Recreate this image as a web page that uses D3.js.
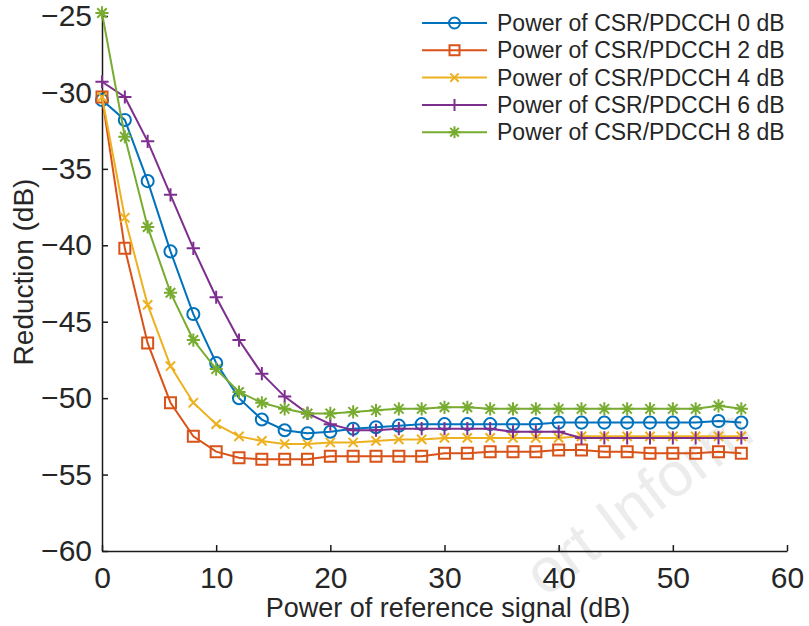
<!DOCTYPE html>
<html>
<head>
<meta charset="utf-8">
<script src="https://cdn.jsdelivr.net/npm/d3@7"></script>
<style>
  body { margin: 0; background: #fff; }
  text { font-family: "Liberation Sans", Arial, sans-serif; fill: #262626; }
  .tick text { font-family: "Liberation Sans Narrow", "Arial Narrow", sans-serif; }
</style>
</head>
<body>
<div id="chart"></div>
<script>
// x positions (power of reference signal, dB)
const refPower = [0, 2, 4, 6, 8, 10, 12, 14, 16, 18, 20, 22, 24, 26, 28, 30, 32, 34, 36, 38, 40, 42, 44, 46, 48, 50, 52, 54, 56];

// reduction values (dB) for each CSR/PDCCH power
const csr0 = [-30.5, -31.8, -35.8, -40.4, -44.5, -47.7, -50.0, -51.4, -52.1, -52.3, -52.2, -52.0, -51.9, -51.8, -51.7, -51.7, -51.7, -51.7, -51.7, -51.7, -51.6, -51.6, -51.6, -51.6, -51.6, -51.6, -51.6, -51.5, -51.6];
const csr2 = [-30.3, -40.2, -46.4, -50.3, -52.5, -53.5, -53.9, -54.0, -54.0, -54.0, -53.8, -53.8, -53.8, -53.8, -53.8, -53.6, -53.6, -53.5, -53.5, -53.5, -53.4, -53.4, -53.5, -53.5, -53.6, -53.6, -53.6, -53.5, -53.6];
const csr4 = [-30.3, -38.2, -43.9, -47.9, -50.3, -51.7, -52.5, -52.8, -53.0, -53.0, -52.9, -52.9, -52.8, -52.7, -52.7, -52.6, -52.6, -52.6, -52.6, -52.6, -52.6, -52.5, -52.5, -52.5, -52.5, -52.5, -52.5, -52.5, -52.5];
const csr6 = [-29.3, -30.3, -33.2, -36.7, -40.2, -43.4, -46.2, -48.4, -49.9, -51.0, -51.7, -52.1, -52.1, -52.0, -52.0, -52.0, -52.0, -52.0, -52.2, -52.2, -52.2, -52.6, -52.6, -52.6, -52.6, -52.6, -52.6, -52.6, -52.6];
const csr8 = [-24.8, -32.9, -38.8, -43.1, -46.2, -48.1, -49.6, -50.3, -50.7, -51.0, -51.0, -50.9, -50.8, -50.7, -50.7, -50.6, -50.6, -50.7, -50.7, -50.7, -50.7, -50.7, -50.7, -50.7, -50.7, -50.7, -50.7, -50.5, -50.7];

const seriesNames = ['Power of CSR/PDCCH 0 dB', 'Power of CSR/PDCCH 2 dB', 'Power of CSR/PDCCH 4 dB', 'Power of CSR/PDCCH 6 dB', 'Power of CSR/PDCCH 8 dB'];
const xTicks = [0, 10, 20, 30, 40, 50, 60];
const yTicks = [-60, -55, -50, -45, -40, -35, -30, -25];

const colors = ['#0072BD', '#D95319', '#EDB120', '#7E2F8E', '#77AC30'];
const markers = ['circle', 'square', 'cross', 'plus', 'star'];

const series = [csr0, csr2, csr4, csr6, csr8].map((vals, i) => ({
  name: seriesNames[i],
  color: colors[i],
  marker: markers[i],
  values: vals.map((v, j) => ({ x: refPower[j], y: v }))
}));

// Chart setup
const width = 809, height = 626;
const margin = { top: 16, right: 22, bottom: 75, left: 102 };
const innerW = width - margin.left - margin.right;
const innerH = height - margin.top - margin.bottom;

const svg = d3.select('#chart')
  .append('svg')
  .attr('width', width)
  .attr('height', height);

// faint watermark
svg.append('text')
  .attr('transform', 'translate(545,598) rotate(-37)')
  .style('font-size', '62px')
  .style('fill', '#ececec')
  .text('ort Inform');

const g = svg.append('g')
  .attr('transform', `translate(${margin.left},${margin.top})`);

// Scales
const x = d3.scaleLinear().domain([0, 60]).range([0, innerW]);
const y = d3.scaleLinear().domain([-60, -25]).range([innerH, 0]);

// Axes (ticks pointing inward, no box)
const fmt = d => d < 0 ? '\u2212' + Math.abs(d) : d;

const xAxis = g.append('g')
  .attr('transform', `translate(0,${innerH})`)
  .call(d3.axisBottom(x).tickValues(xTicks).tickSizeInner(-6).tickSizeOuter(0).tickPadding(16).tickFormat(fmt));

const yAxis = g.append('g')
  .call(d3.axisLeft(y).tickValues(yTicks).tickSizeInner(-6).tickSizeOuter(0).tickPadding(10).tickFormat(fmt));

[xAxis, yAxis].forEach(ax => {
  ax.select('.domain').attr('stroke', '#1a1a1a').attr('stroke-width', 1.5);
  ax.selectAll('.tick line').attr('stroke', '#1a1a1a').attr('stroke-width', 1.5);
  ax.selectAll('.tick text').style('font-size', '30px').attr('fill', '#1a1a1a');
});

// Axis labels
svg.append('text')
  .attr('text-anchor', 'middle')
  .attr('x', 448)
  .attr('y', 617)
  .style('font-size', '27px')
  .text('Power of reference signal (dB)');

svg.append('text')
  .attr('text-anchor', 'middle')
  .attr('transform', 'translate(33,272) rotate(-90)')
  .style('font-size', '28px')
  .text('Reduction (dB)');

// Marker shapes
function markerPath(type, s) {
  switch (type) {
    case 'circle': return d3.arc()({ innerRadius: 0, outerRadius: s * 0.55, startAngle: 0, endAngle: 2 * Math.PI });
    case 'square': return `M${-s / 2},${-s / 2}h${s}v${s}h${-s}Z`;
    case 'cross': { const a = s * 0.42; return `M${-a},${-a}L${a},${a}M${-a},${a}L${a},${-a}`; }
    case 'plus': { const a = s * 0.6; return `M${-a},0L${a},0M0,${-a}L0,${a}`; }
    case 'star': {
      const a = s * 0.6, b = a * 0.72;
      return `M${-a},0L${a},0M0,${-a}L0,${a}M${-b},${-b}L${b},${b}M${-b},${b}L${b},${-b}`;
    }
  }
}

const line = d3.line()
  .x(d => x(d.x))
  .y(d => y(d.y));

// draw series in order
series.forEach(s => {
  g.append('path')
    .datum(s.values)
    .attr('fill', 'none')
    .attr('stroke', s.color)
    .attr('stroke-width', 2)
    .attr('d', line);

  g.selectAll(null)
    .data(s.values)
    .enter().append('path')
    .attr('transform', d => `translate(${x(d.x)},${y(d.y)})`)
    .attr('d', markerPath(s.marker, 11))
    .attr('fill', 'none')
    .attr('stroke', s.color)
    .attr('stroke-width', 2);
});

// Legend
const legend = svg.append('g').attr('transform', 'translate(422,23)');
series.forEach((s, i) => {
  const row = legend.append('g').attr('transform', `translate(0,${i * 27.3})`);
  row.append('line')
    .attr('x1', 0).attr('x2', 65)
    .attr('stroke', s.color).attr('stroke-width', 2);
  row.append('path')
    .attr('transform', 'translate(32.5,0)')
    .attr('d', markerPath(s.marker, 10))
    .attr('fill', 'none')
    .attr('stroke', s.color)
    .attr('stroke-width', 2);
  row.append('text')
    .attr('x', 75)
    .attr('y', 8)
    .style('font-size', '23px')
    .text(s.name);
});
</script>
</body>
</html>
